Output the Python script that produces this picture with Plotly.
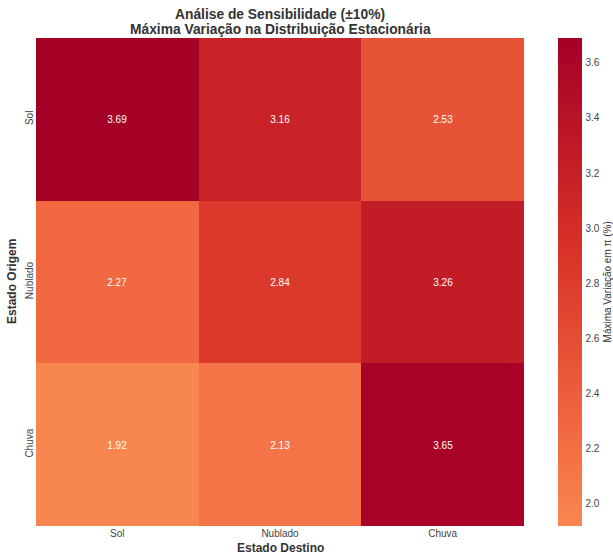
import plotly.graph_objects as go
from plotly.colors import sample_colorscale

origem = ["Sol", "Nublado", "Chuva"]
destino = ["Sol", "Nublado", "Chuva"]
valores = [
    [3.69, 3.16, 2.53],
    [2.27, 2.84, 3.26],
    [1.92, 2.13, 3.65],
]
cbar_ticks = [2.0, 2.2, 2.4, 2.6, 2.8, 3.0, 3.2, 3.4, 3.6]
titulo = ["Análise de Sensibilidade (±10%)", "Máxima Variação na Distribuição Estacionária"]
cbar_titulo = "Máxima Variação em π (%)"
x_titulo = "Estado Destino"
y_titulo = "Estado Origem"

# Diverging RdYlBu_r centred at 0 (seaborn-style), restricted to data range
rdylbu_r = ["#313695", "#4575b4", "#74add1", "#abd9e9", "#e0f3f8", "#ffffbf",
            "#fee090", "#fdae61", "#f46d43", "#d73027", "#a50026"]
base = [[i / 10, c] for i, c in enumerate(rdylbu_r)]
flat = [v for row in valores for v in row]
vmin, vmax = min(flat), max(flat)
vr = max(abs(vmin), abs(vmax))
n = 40
ts = [i / n for i in range(n + 1)]
pos = [0.5 + (vmin + t * (vmax - vmin)) / (2 * vr) for t in ts]
cols = sample_colorscale(base, pos)
cscale = [[t, c] for t, c in zip(ts, cols)]

fig = go.Figure(go.Heatmap(
    z=valores, x=destino, y=origem,
    colorscale=cscale, zmin=vmin, zmax=vmax,
    texttemplate="%{z:.2f}", textfont=dict(color="white", size=10),
    colorbar=dict(
        tickvals=cbar_ticks, ticktext=[f"{v:.1f}" for v in cbar_ticks],
        tickfont=dict(size=10, color="#444"),
        thickness=24, len=1.0, lenmode="fraction", ypad=0, xpad=0,
        x=1.0697, xanchor="left", y=0.5, yanchor="middle",
        outlinewidth=0, ticks="outside", ticklen=2, tickcolor="rgba(0,0,0,0)",
    ),
    hoverongaps=False,
))

fig.update_layout(
    width=613, height=557,
    margin=dict(l=36, r=89, t=38, b=31, autoexpand=False),
    paper_bgcolor="white", plot_bgcolor="white",
    font=dict(family="Liberation Sans, Arial, sans-serif", color="#333"),
    annotations=[
        dict(text=f"<b>{titulo[0]}</b>", xref="paper", yref="paper", x=0.5, y=1,
             xanchor="center", yanchor="middle", yshift=24, showarrow=False, borderpad=0,
             font=dict(size=13.8, color="#333")),
        dict(text=f"<b>{titulo[1]}</b>", xref="paper", yref="paper", x=0.5, y=1,
             xanchor="center", yanchor="middle", yshift=9, showarrow=False, borderpad=0,
             font=dict(size=13.8, color="#333")),
        dict(text=cbar_titulo, xref="paper", yref="paper", x=1.171, y=0.5,
             xanchor="center", yanchor="middle", textangle=-90, showarrow=False, borderpad=0,
             font=dict(size=10, color="#333")),
        dict(text=f"<b>{x_titulo}</b>", xref="paper", yref="paper", x=0.5, y=0,
             xanchor="center", yanchor="middle", yshift=-22, showarrow=False, borderpad=0,
             font=dict(size=12, color="#333")),
        dict(text=f"<b>{y_titulo}</b>", xref="paper", yref="paper", x=0, y=0.5,
             xanchor="center", yanchor="middle", xshift=-24, textangle=-90, showarrow=False,
             borderpad=0, font=dict(size=12, color="#333")),
    ],
)
fig.update_xaxes(tickfont=dict(size=10, color="#444"), showgrid=False, zeroline=False,
                 ticks="", ticklen=0, automargin=False)
fig.update_yaxes(tickfont=dict(size=10, color="#444"), showgrid=False, zeroline=False,
                 autorange="reversed", tickangle=-90, ticks="", ticklen=0, automargin=False,
                 ticklabelstandoff=0)

fig.write_html("out.html", config={"displayModeBar": False},
               post_script="document.body.style.margin='0';document.body.style.overflow='hidden';")
